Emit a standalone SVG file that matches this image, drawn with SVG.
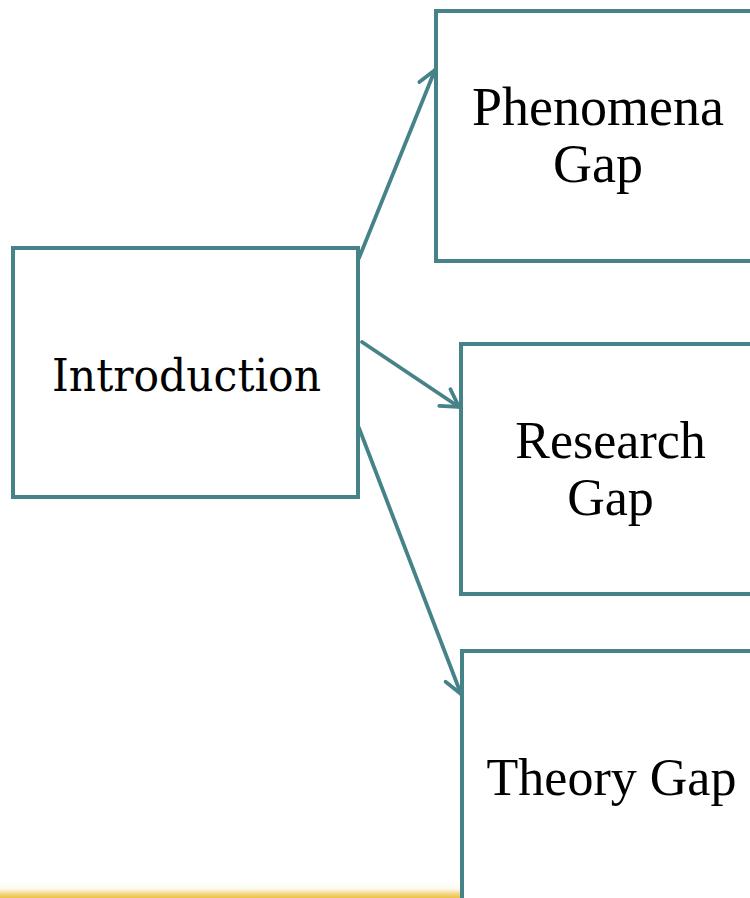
<svg xmlns="http://www.w3.org/2000/svg" width="750" height="898" viewBox="0 0 750 898">
  <style>
    .box { fill: #ffffff; stroke: #468389; stroke-width: 4; stroke-linejoin: miter; }
    .lbl { font-family: "Liberation Serif", "Times New Roman", serif; font-size: 52px; fill: #000000; text-anchor: middle; }
    .lbl-intro { font-family: "DejaVu Serif", Georgia, serif; font-size: 45px; fill: #000000; text-anchor: middle; }
    .conn { fill: none; stroke: #468389; stroke-width: 3.8; stroke-linecap: round; }
  </style>
  <defs>
    <marker id="chev" markerUnits="userSpaceOnUse" markerWidth="40" markerHeight="40" refX="0" refY="0" viewBox="-20 -20 40 40" orient="auto" overflow="visible">
      <path d="M-17,-10 L0,0 L-17,10" fill="none" stroke="#468389" stroke-width="3.8" stroke-linecap="round" stroke-linejoin="miter"/>
    </marker>
    <linearGradient id="band" x1="0" y1="0" x2="0" y2="1">
      <stop offset="0" stop-color="#ffffff" stop-opacity="0"/>
      <stop offset="0.55" stop-color="#fbf9ec"/>
      <stop offset="0.75" stop-color="#f3dc95"/>
      <stop offset="1" stop-color="#efc042"/>
    </linearGradient>
  </defs>

  <rect width="750" height="898" fill="#ffffff"/>

  <!-- footer strip along the bottom edge -->
  <rect x="0" y="878" width="462" height="20" fill="url(#band)"/>

  <g id="connectors">
    <line class="conn" x1="359" y1="258" x2="435" y2="70" marker-end="url(#chev)"/>
    <line class="conn" x1="362" y1="342" x2="459" y2="407" marker-end="url(#chev)"/>
    <line class="conn" x1="359" y1="428" x2="461" y2="694" marker-end="url(#chev)"/>
  </g>

  <g id="introduction">
    <rect class="box" x="13" y="248" width="345" height="249"/>
    <text class="lbl-intro" x="186.5" y="391" textLength="269" lengthAdjust="spacingAndGlyphs">Introduction</text>
  </g>

  <g id="phenomena-gap">
    <rect class="box" x="436" y="11" width="330" height="250"/>
    <text class="lbl" x="598" y="125" style="font-size:54px">Phenomena</text>
    <text class="lbl" x="598" y="182" style="font-size:54px">Gap</text>
  </g>

  <g id="research-gap">
    <rect class="box" x="461" y="344" width="305" height="250"/>
    <text class="lbl" x="610.5" y="458">Research</text>
    <text class="lbl" x="610.5" y="515">Gap</text>
  </g>

  <g id="theory-gap">
    <rect class="box" x="462" y="651" width="305" height="270"/>
    <text class="lbl" x="611.5" y="795">Theory Gap</text>
  </g>
</svg>
